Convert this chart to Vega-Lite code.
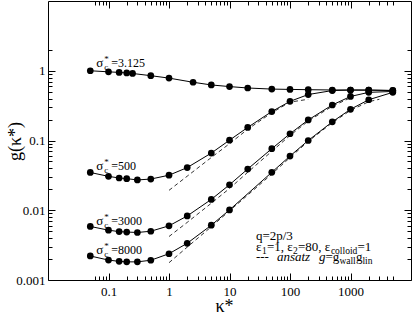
{
 "$schema": "https://vega.github.io/schema/vega-lite/v6.json",
 "width": 363, "height": 279,
 "autosize": "none",
 "padding": {"left": 48, "top": 1, "right": 4, "bottom": 35},
 "background": "white",
 "config": {"view": {"stroke": null}, "font": "Liberation Serif",
  "text": {"font": "Liberation Serif", "color": "black", "baseline": "alphabetic", "align": "left"},
  "axis": {"labelFont": "Liberation Serif", "titleFont": "Liberation Serif", "labelColor": "black", "titleColor": "black", "domainColor": "black", "tickColor": "black", "grid": false, "titleFontWeight": "normal", "labelFontSize": 13, "titleFontSize": 18, "domainWidth": 1, "tickWidth": 1}},
 "datasets": {
  "curves": [
   {"s":"3.125","k":0.05,"g":1.0},{"s":"3.125","k":0.1,"g":0.965},{"s":"3.125","k":0.15,"g":0.947},{"s":"3.125","k":0.2,"g":0.93},{"s":"3.125","k":0.25,"g":0.914},{"s":"3.125","k":0.5,"g":0.85},{"s":"3.125","k":1,"g":0.784},{"s":"3.125","k":2.5,"g":0.684},{"s":"3.125","k":5,"g":0.626},{"s":"3.125","k":10,"g":0.593},{"s":"3.125","k":20,"g":0.566},{"s":"3.125","k":50,"g":0.546},{"s":"3.125","k":100,"g":0.54},{"s":"3.125","k":200,"g":0.535},{"s":"3.125","k":500,"g":0.53},{"s":"3.125","k":1000,"g":0.528},{"s":"3.125","k":2000,"g":0.528},{"s":"3.125","k":5000,"g":0.522},
   {"s":"500","k":0.05,"g":0.0348},{"s":"500","k":0.1,"g":0.0306},{"s":"500","k":0.15,"g":0.029},{"s":"500","k":0.2,"g":0.0284},{"s":"500","k":0.3,"g":0.0272},{"s":"500","k":0.5,"g":0.028},{"s":"500","k":1,"g":0.0318},{"s":"500","k":2,"g":0.0409},{"s":"500","k":5,"g":0.066},{"s":"500","k":10,"g":0.101},{"s":"500","k":20,"g":0.154},{"s":"500","k":50,"g":0.26},{"s":"500","k":100,"g":0.364},{"s":"500","k":200,"g":0.456},{"s":"500","k":500,"g":0.52},{"s":"500","k":1000,"g":0.53},{"s":"500","k":2000,"g":0.528},{"s":"500","k":5000,"g":0.52},
   {"s":"3000","k":0.05,"g":0.00586},{"s":"3000","k":0.1,"g":0.00518},{"s":"3000","k":0.15,"g":0.00494},{"s":"3000","k":0.2,"g":0.00487},{"s":"3000","k":0.3,"g":0.0048},{"s":"3000","k":0.5,"g":0.005},{"s":"3000","k":1,"g":0.00598},{"s":"3000","k":2,"g":0.00828},{"s":"3000","k":5,"g":0.0143},{"s":"3000","k":10,"g":0.0232},{"s":"3000","k":20,"g":0.039},{"s":"3000","k":50,"g":0.0763},{"s":"3000","k":100,"g":0.125},{"s":"3000","k":200,"g":0.197},{"s":"3000","k":500,"g":0.323},{"s":"3000","k":1000,"g":0.428},{"s":"3000","k":2000,"g":0.49},{"s":"3000","k":5000,"g":0.505},
   {"s":"8000","k":0.05,"g":0.00221},{"s":"8000","k":0.1,"g":0.00193},{"s":"8000","k":0.15,"g":0.00185},{"s":"8000","k":0.2,"g":0.00182},{"s":"8000","k":0.3,"g":0.00182},{"s":"8000","k":0.5,"g":0.00192},{"s":"8000","k":1,"g":0.00238},{"s":"8000","k":2,"g":0.00336},{"s":"8000","k":5,"g":0.0061},{"s":"8000","k":10,"g":0.0101},{"s":"8000","k":50,"g":0.035},{"s":"8000","k":100,"g":0.0598},{"s":"8000","k":200,"g":0.1},{"s":"8000","k":500,"g":0.185},{"s":"8000","k":1000,"g":0.28},{"s":"8000","k":2000,"g":0.384},{"s":"8000","k":5000,"g":0.49}
  ],
  "ansatz": [
   {"s":"500","k":1,"g":0.0193},{"s":"500","k":2,"g":0.0308},{"s":"500","k":5,"g":0.057},{"s":"500","k":10,"g":0.09},{"s":"500","k":20,"g":0.145},{"s":"500","k":50,"g":0.25},{"s":"500","k":100,"g":0.355},{"s":"500","k":200,"g":0.39},
   {"s":"3000","k":1,"g":0.0042},{"s":"3000","k":2,"g":0.0067},{"s":"3000","k":5,"g":0.0126},{"s":"3000","k":10,"g":0.0205},{"s":"3000","k":20,"g":0.035},{"s":"3000","k":50,"g":0.07},{"s":"3000","k":100,"g":0.118},{"s":"3000","k":200,"g":0.19},{"s":"3000","k":500,"g":0.31},{"s":"3000","k":1000,"g":0.41},
   {"s":"8000","k":1,"g":0.00177},{"s":"8000","k":2,"g":0.00296},{"s":"8000","k":5,"g":0.0058},{"s":"8000","k":10,"g":0.0098},{"s":"8000","k":20,"g":0.0165},{"s":"8000","k":50,"g":0.033},{"s":"8000","k":100,"g":0.057},{"s":"8000","k":200,"g":0.097},{"s":"8000","k":500,"g":0.18},{"s":"8000","k":1000,"g":0.27},{"s":"8000","k":2000,"g":0.36},{"s":"8000","k":3000,"g":0.39}
  ],
  "labels": [
   {"k":0.0625,"g":1.15,"v":"=3.125"},{"k":0.0625,"g":0.0376,"v":"=500"},{"k":0.0625,"g":0.00614,"v":"=3000"},{"k":0.0625,"g":0.00236,"v":"=8000"}
  ]
 },
 "layer": [
  {"data": {"name": "curves"},
   "mark": {"type": "line", "color": "black", "strokeWidth": 1},
   "encoding": {
    "x": {"field": "k", "type": "quantitative", "scale": {"type": "log", "domain": [0.05, 5000]},
     "axis": {"orient": "bottom", "values": [0.1, 1, 10, 100, 1000], "labelExpr": "'' + datum.value", "tickSize": -7, "labelPadding": 12, "title": "κ*", "titleX": 176, "titleY": 31, "titleBaseline": "alphabetic", "titleAlign": "center"}},
    "y": {"field": "g", "type": "quantitative", "scale": {"type": "log", "domain": [0.001, 2]},
     "axis": {"orient": "left", "values": [0.001, 0.01, 0.1, 1], "labelExpr": "'' + datum.value", "tickSize": -7, "labelPadding": 10, "title": "g(κ*)", "titleX": -33, "titleY": 140, "titleAngle": -90, "titleBaseline": "middle", "titleAlign": "center"}},
    "detail": {"field": "s"}}},
  {"data": {"name": "curves"},
   "mark": {"type": "point", "filled": true, "color": "black", "size": 45, "opacity": 1},
   "encoding": {
    "x": {"field": "k", "type": "quantitative", "scale": {"type": "log", "domain": [0.05, 5000]},
     "axis": {"orient": "bottom", "values": [0.06,0.07,0.08,0.09,0.2,0.3,0.4,0.5,0.6,0.7,0.8,0.9,2,3,4,5,6,7,8,9,20,30,40,50,60,70,80,90,200,300,400,500,600,700,800,900,2000,3000,4000,5000], "tickSize": -4, "labels": false, "title": null, "domain": false}},
    "y": {"field": "g", "type": "quantitative", "scale": {"type": "log", "domain": [0.001, 2]},
     "axis": {"orient": "left", "values": [0.002,0.003,0.004,0.005,0.006,0.007,0.008,0.009,0.02,0.03,0.04,0.05,0.06,0.07,0.08,0.09,0.2,0.3,0.4,0.5,0.6,0.7,0.8,0.9,2], "tickSize": -4, "labels": false, "title": null, "domain": false}}}},
  {"data": {"name": "ansatz"},
   "mark": {"type": "line", "color": "black", "strokeWidth": 0.8, "strokeDash": [4, 3]},
   "encoding": {
    "x": {"field": "k", "type": "quantitative", "scale": {"type": "log", "domain": [0.05, 5000]},
     "axis": {"orient": "top", "values": [0.1, 1, 10, 100, 1000], "tickSize": -7, "labels": false, "title": null}},
    "y": {"field": "g", "type": "quantitative", "scale": {"type": "log", "domain": [0.001, 2]},
     "axis": {"orient": "right", "values": [0.001, 0.01, 0.1, 1], "tickSize": -7, "labels": false, "title": null}},
    "detail": {"field": "s"}}},
  {"data": {"name": "labels"},
   "mark": {"type": "text", "text": "σ", "fontSize": 13, "color": "black", "font": "Liberation Serif", "align": "left", "baseline": "alphabetic"},
   "encoding": {
    "x": {"field": "k", "type": "quantitative", "scale": {"type": "log", "domain": [0.05, 5000]},
     "axis": {"orient": "top", "values": [0.06,0.07,0.08,0.09,0.2,0.3,0.4,0.5,0.6,0.7,0.8,0.9,2,3,4,5,6,7,8,9,20,30,40,50,60,70,80,90,200,300,400,500,600,700,800,900,2000,3000,4000,5000], "tickSize": -4, "labels": false, "title": null, "domain": false}},
    "y": {"field": "g", "type": "quantitative", "scale": {"type": "log", "domain": [0.001, 2]},
     "axis": {"orient": "right", "values": [0.002,0.003,0.004,0.005,0.006,0.007,0.008,0.009,0.02,0.03,0.04,0.05,0.06,0.07,0.08,0.09,0.2,0.3,0.4,0.5,0.6,0.7,0.8,0.9,2], "tickSize": -4, "labels": false, "title": null, "domain": false}}}},
  {"data": {"name": "labels"},
   "mark": {"type": "text", "text": "*", "fontSize": 9, "dx": 8, "dy": -5, "color": "black", "font": "Liberation Serif", "align": "left", "baseline": "alphabetic"},
   "encoding": {"x": {"field": "k", "type": "quantitative", "axis": null}, "y": {"field": "g", "type": "quantitative", "axis": null}}},
  {"data": {"name": "labels"},
   "mark": {"type": "text", "text": "c", "fontSize": 9, "dx": 8, "dy": 3, "color": "black", "font": "Liberation Serif", "align": "left", "baseline": "alphabetic"},
   "encoding": {"x": {"field": "k", "type": "quantitative", "axis": null}, "y": {"field": "g", "type": "quantitative", "axis": null}}},
  {"data": {"name": "labels"},
   "mark": {"type": "text", "fontSize": 12, "dx": 15, "color": "black", "font": "Liberation Serif", "align": "left", "baseline": "alphabetic"},
   "encoding": {"x": {"field": "k", "type": "quantitative", "axis": null}, "y": {"field": "g", "type": "quantitative", "axis": null}, "text": {"field": "v"}}},
  {"data": {"values": [{"t": "q=2p/3"}]},
   "mark": {"type": "text", "fontSize": 13, "color": "black", "font": "Liberation Serif", "align": "left", "baseline": "alphabetic"},
   "encoding": {"x": {"datum": 27.3, "type": "quantitative", "axis": null}, "y": {"datum": 0.00377, "type": "quantitative", "axis": null}, "text": {"field": "t"}}},
  {"data": {"values": [{"t": "ε"}]},
   "mark": {"type": "text", "fontSize": 13, "dx": 0, "color": "black", "font": "Liberation Serif", "align": "left", "baseline": "alphabetic"},
   "encoding": {"x": {"datum": 27.3, "type": "quantitative", "axis": null}, "y": {"datum": 0.00258, "type": "quantitative", "axis": null}, "text": {"field": "t"}}},
  {"data": {"values": [{"t": "1"}]},
   "mark": {"type": "text", "fontSize": 9.5, "dx": 6, "dy": 3, "color": "black", "font": "Liberation Serif", "align": "left", "baseline": "alphabetic"},
   "encoding": {"x": {"datum": 27.3, "type": "quantitative", "axis": null}, "y": {"datum": 0.00258, "type": "quantitative", "axis": null}, "text": {"field": "t"}}},
  {"data": {"values": [{"t": "=1, ε"}]},
   "mark": {"type": "text", "fontSize": 13, "dx": 11, "color": "black", "font": "Liberation Serif", "align": "left", "baseline": "alphabetic"},
   "encoding": {"x": {"datum": 27.3, "type": "quantitative", "axis": null}, "y": {"datum": 0.00258, "type": "quantitative", "axis": null}, "text": {"field": "t"}}},
  {"data": {"values": [{"t": "2"}]},
   "mark": {"type": "text", "fontSize": 9.5, "dx": 37, "dy": 3, "color": "black", "font": "Liberation Serif", "align": "left", "baseline": "alphabetic"},
   "encoding": {"x": {"datum": 27.3, "type": "quantitative", "axis": null}, "y": {"datum": 0.00258, "type": "quantitative", "axis": null}, "text": {"field": "t"}}},
  {"data": {"values": [{"t": "=80, ε"}]},
   "mark": {"type": "text", "fontSize": 13, "dx": 42, "color": "black", "font": "Liberation Serif", "align": "left", "baseline": "alphabetic"},
   "encoding": {"x": {"datum": 27.3, "type": "quantitative", "axis": null}, "y": {"datum": 0.00258, "type": "quantitative", "axis": null}, "text": {"field": "t"}}},
  {"data": {"values": [{"t": "colloid"}]},
   "mark": {"type": "text", "fontSize": 9.5, "dx": 75, "dy": 3, "color": "black", "font": "Liberation Serif", "align": "left", "baseline": "alphabetic"},
   "encoding": {"x": {"datum": 27.3, "type": "quantitative", "axis": null}, "y": {"datum": 0.00258, "type": "quantitative", "axis": null}, "text": {"field": "t"}}},
  {"data": {"values": [{"t": "=1"}]},
   "mark": {"type": "text", "fontSize": 13, "dx": 101.5, "color": "black", "font": "Liberation Serif", "align": "left", "baseline": "alphabetic"},
   "encoding": {"x": {"datum": 27.3, "type": "quantitative", "axis": null}, "y": {"datum": 0.00258, "type": "quantitative", "axis": null}, "text": {"field": "t"}}},
  {"data": {"values": [{"t": "---"}]},
   "mark": {"type": "text", "fontSize": 13, "dx": 0, "color": "black", "font": "Liberation Serif", "align": "left", "baseline": "alphabetic"},
   "encoding": {"x": {"datum": 27.3, "type": "quantitative", "axis": null}, "y": {"datum": 0.00187, "type": "quantitative", "axis": null}, "text": {"field": "t"}}},
  {"data": {"values": [{"t": "ansatz"}]},
   "mark": {"type": "text", "fontSize": 13, "fontStyle": "italic", "dx": 21, "color": "black", "font": "Liberation Serif", "align": "left", "baseline": "alphabetic"},
   "encoding": {"x": {"datum": 27.3, "type": "quantitative", "axis": null}, "y": {"datum": 0.00187, "type": "quantitative", "axis": null}, "text": {"field": "t"}}},
  {"data": {"values": [{"t": "g"}]},
   "mark": {"type": "text", "fontSize": 13, "fontStyle": "italic", "dx": 63, "color": "black", "font": "Liberation Serif", "align": "left", "baseline": "alphabetic"},
   "encoding": {"x": {"datum": 27.3, "type": "quantitative", "axis": null}, "y": {"datum": 0.00187, "type": "quantitative", "axis": null}, "text": {"field": "t"}}},
  {"data": {"values": [{"t": "=g"}]},
   "mark": {"type": "text", "fontSize": 13, "dx": 69.5, "color": "black", "font": "Liberation Serif", "align": "left", "baseline": "alphabetic"},
   "encoding": {"x": {"datum": 27.3, "type": "quantitative", "axis": null}, "y": {"datum": 0.00187, "type": "quantitative", "axis": null}, "text": {"field": "t"}}},
  {"data": {"values": [{"t": "wall"}]},
   "mark": {"type": "text", "fontSize": 9.5, "dx": 83.5, "dy": 3, "color": "black", "font": "Liberation Serif", "align": "left", "baseline": "alphabetic"},
   "encoding": {"x": {"datum": 27.3, "type": "quantitative", "axis": null}, "y": {"datum": 0.00187, "type": "quantitative", "axis": null}, "text": {"field": "t"}}},
  {"data": {"values": [{"t": "g"}]},
   "mark": {"type": "text", "fontSize": 13, "dx": 100, "color": "black", "font": "Liberation Serif", "align": "left", "baseline": "alphabetic"},
   "encoding": {"x": {"datum": 27.3, "type": "quantitative", "axis": null}, "y": {"datum": 0.00187, "type": "quantitative", "axis": null}, "text": {"field": "t"}}},
  {"data": {"values": [{"t": "lin"}]},
   "mark": {"type": "text", "fontSize": 9.5, "dx": 106.5, "dy": 3, "color": "black", "font": "Liberation Serif", "align": "left", "baseline": "alphabetic"},
   "encoding": {"x": {"datum": 27.3, "type": "quantitative", "axis": null}, "y": {"datum": 0.00187, "type": "quantitative", "axis": null}, "text": {"field": "t"}}}
 ],
 "resolve": {"axis": {"x": "independent", "y": "independent"}}
}
